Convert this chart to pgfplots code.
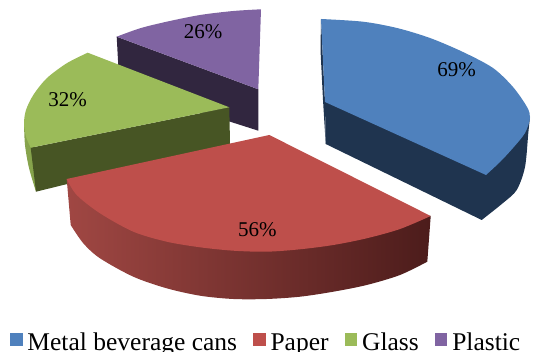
\documentclass[border=0pt]{standalone}
\usepackage{fontspec}
\setmainfont{Liberation Serif}
\usepackage{pgfplots}
\pgfplotsset{compat=1.18}
\definecolor{blueTop}{HTML}{4F81BD}
\definecolor{blueSide}{HTML}{1F344F}
\definecolor{redTop}{HTML}{BE4F4B}
\definecolor{redSideA}{HTML}{A04743}
\definecolor{redSideB}{HTML}{74312F}
\definecolor{redSideC}{HTML}{4C1C1B}
\definecolor{greenTop}{HTML}{9BBB59}
\definecolor{greenSide}{HTML}{475524}
\definecolor{greenRim}{HTML}{86A34C}
\definecolor{purpleTop}{HTML}{8064A2}
\definecolor{purpleSide}{HTML}{31263F}
\begin{document}
\begin{tikzpicture}
\path[use as bounding box] (0,0) rectangle (545pt,352pt);
\begin{axis}[
  at={(0,0)}, anchor=south west,
  scale only axis, width=545pt, height=352pt,
  xmin=0, xmax=545, ymin=0, ymax=352, y dir=reverse,
  hide axis, clip=false,
  every axis plot/.append style={forget plot, draw=none, line width=0pt},
  legend columns=-1,
  legend style={
    at={(axis cs:10,342.4)}, anchor=base west, draw=none, fill=none,
    inner sep=0pt, outer sep=0pt, font=\fontsize{25.5}{28}\selectfont,
    /tikz/every even column/.append style={column sep=14pt},
    /tikz/every odd column/.append style={column sep=3pt},
  },
  legend image code/.code={\fill[#1] (0pt,-3.5pt) rectangle (12.5pt,9.5pt);},
]
% legend
\addlegendimage{blueTop, fill=blueTop}\addlegendentry{Metal beverage cans}
\addlegendimage{redTop, fill=redTop}\addlegendentry{Paper}
\addlegendimage{greenTop, fill=greenTop}\addlegendentry{Glass}
\addlegendimage{purpleTop, fill=purpleTop}\addlegendentry{Plastic}

% Plastic
\addplot[fill=purpleSide] coordinates {(116.7,36.7) (118.3,66) (118.3,86) (258.3,130.7) (258.3,89.3)} --cycle;
\addplot[fill=purpleTop, smooth, tension=0.5] coordinates {(116.7,36.7) (140,28.3) (166.7,21.7) (200,15) (233.3,11) (261,9.3)} -- (axis cs:258.3,89.3) -- cycle;

% Glass
\addplot[fill=greenRim, smooth, tension=0.5] coordinates {(24,123) (25,145) (29,168) (36,191.7)} -- (axis cs:36,150) -- cycle;
\addplot[fill=greenSide] coordinates {(229.3,107.3) (30.7,147.7) (36,191.7) (230,144)} --cycle;
\addplot[fill=greenTop, smooth, tension=0.5] coordinates {(87.7,52.7) (66.7,63.3) (46.7,78.3) (33.3,95) (26,110) (24,123.3) (26,136.7) (30.7,147.7)} -- (axis cs:229.3,107.3) -- cycle;

% Metal beverage cans
\addplot[fill=blueSide] coordinates {(321,19) (320.5,50) (323,100) (325.7,144) (325,102)} --cycle;
\addplot[fill=blueSide, smooth, tension=0.5] coordinates {(530,117) (528.3,133) (525,167) (516.7,190) (503,203) (481.7,220)} -- (axis cs:325.7,144) -- (axis cs:325,102) -- cycle;
\addplot[fill=blueTop, smooth, tension=0.5] coordinates {(321,19) (363,21.7) (397,28) (430,38) (463,52) (493,68) (513,87) (527,107) (530,118) (525,133) (513,148) (500,162) (486,175)} -- (axis cs:325,102) -- cycle;

% Paper
\addplot[left color=redSideA, middle color=redSideB, right color=redSideC, smooth, tension=0.5] coordinates {(70.7,225) (83.3,243.3) (100,258.3) (133.3,276.7) (166.7,288.3) (200,295.7) (233.3,299) (266.7,299) (300,296.7) (333.3,291.7) (366.7,285) (400,275) (427.3,261.7)} -- (axis cs:430.7,216) -- (axis cs:66.7,179) -- cycle;
\addplot[fill=redTop, smooth, tension=0.5] coordinates {(66.7,179) (76.7,195) (100,213.3) (133.3,231.7) (166.7,241.7) (200,247.3) (233.3,250.7) (266.7,251.7) (300,249.3) (333.3,245) (366.7,238.3) (400,229) (430.7,216)} -- (axis cs:269.3,135) -- cycle;

% value labels
\node[font=\fontsize{21}{24}\selectfont, inner sep=0pt] at (axis cs:456.7,70) {69\%};
\node[font=\fontsize{21}{24}\selectfont, inner sep=0pt] at (axis cs:257.3,230) {56\%};
\node[font=\fontsize{21}{24}\selectfont, inner sep=0pt] at (axis cs:67.7,99.3) {32\%};
\node[font=\fontsize{21}{24}\selectfont, inner sep=0pt] at (axis cs:203,31.7) {26\%};
\end{axis}
\end{tikzpicture}
\end{document}
